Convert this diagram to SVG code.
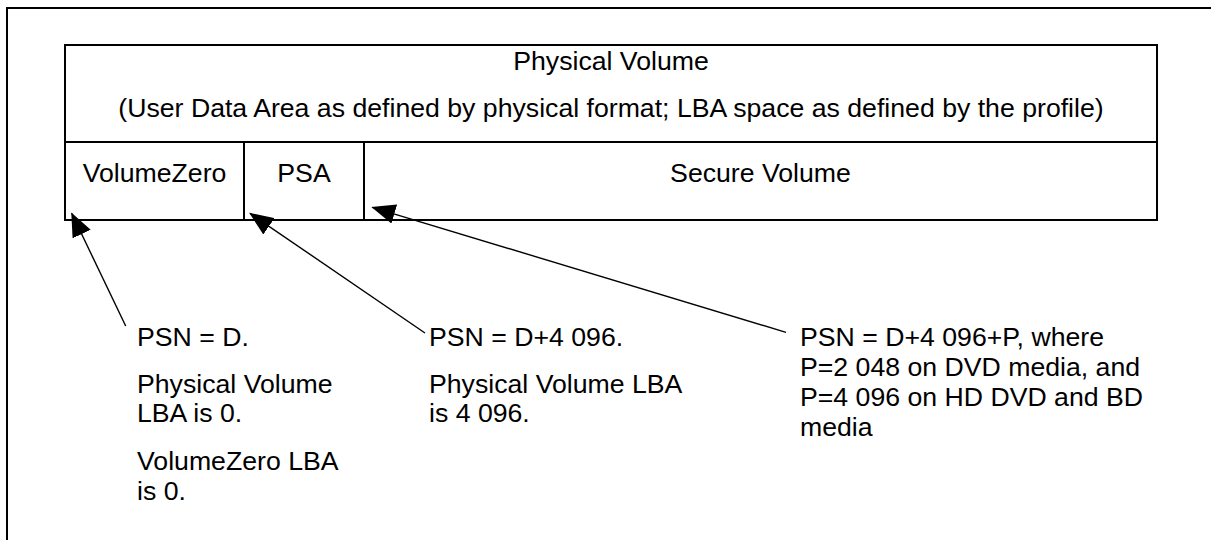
<svg xmlns="http://www.w3.org/2000/svg" width="1211" height="540" viewBox="0 0 1211 540">
  <style>
    text { font-family: "Liberation Sans", Arial, sans-serif; font-size: 26.67px; fill: #000; }
    .c { text-anchor: middle; }
    .box { fill: none; stroke: #000; stroke-width: 2; }
    .conn { stroke: #000; stroke-width: 1.4; fill: none; marker-end: url(#ah); }
  </style>
  <defs>
    <marker id="ah" markerUnits="userSpaceOnUse" markerWidth="24" markerHeight="20" refX="23" refY="10" orient="auto" viewBox="0 0 24 20">
      <path d="M0,0 L24,10 L0,20 z" fill="#000"/>
    </marker>
  </defs>
  <rect width="1211" height="540" fill="#fff"/>
  <g id="frame">
    <rect class="box" x="7" y="8" width="1230" height="560"/>
  </g>
  <g id="physical-volume">
    <rect class="box" x="65" y="45" width="1092" height="97"/>
    <text class="c" x="611" y="70">Physical Volume</text>
    <text class="c" x="611" y="117">(User Data Area as defined by physical format; LBA space as defined by the profile)</text>
  </g>
  <g id="volumezero">
    <rect class="box" x="65" y="142" width="179" height="78"/>
    <text class="c" x="154.5" y="182">VolumeZero</text>
  </g>
  <g id="psa">
    <rect class="box" x="244" y="142" width="120" height="78"/>
    <text class="c" x="304" y="182">PSA</text>
  </g>
  <g id="secure-volume">
    <rect class="box" x="364" y="142" width="793" height="78"/>
    <text class="c" x="760.5" y="182">Secure Volume</text>
  </g>
  <g id="connectors">
    <line class="conn" x1="125.7" y1="326" x2="71.7" y2="213.3"/>
    <line class="conn" x1="425" y1="333" x2="250" y2="213.3"/>
    <line class="conn" x1="786" y1="332.3" x2="372.3" y2="207.3"/>
  </g>
  <g id="label-volumezero">
    <text x="137" y="346">PSN = D.</text>
    <text x="137" y="393">Physical Volume</text>
    <text x="137" y="422">LBA is 0.</text>
    <text x="137" y="470">VolumeZero LBA</text>
    <text x="137" y="500">is 0.</text>
  </g>
  <g id="label-psa">
    <text x="429" y="346">PSN = D+4 096.</text>
    <text x="429" y="393">Physical Volume LBA</text>
    <text x="429" y="422">is 4 096.</text>
  </g>
  <g id="label-secure">
    <text x="800" y="345.5">PSN = D+4 096+P, where</text>
    <text x="800" y="375.5">P=2 048 on DVD media, and</text>
    <text x="800" y="405.5">P=4 096 on HD DVD and BD</text>
    <text x="800" y="435.5">media</text>
  </g>
</svg>
